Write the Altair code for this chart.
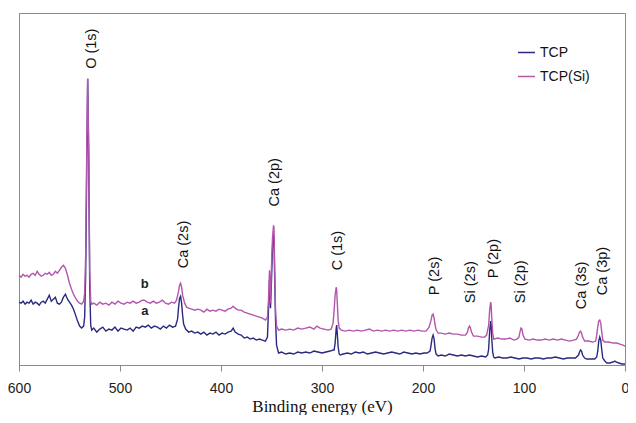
import altair as alt
import pandas as pd

# ---- TCP (curve a) : binding energy (eV), intensity (a.u.) ----
tcp_energy = [600,598,596,594,592,590,588,586,584,582,580,578,576,574,572,570,568,566,564,562,560,558,556,554,552,550,548,546,544,542,540,538,536,535,534,533,532,531,530,529,528,
              526,523,520,517,514,511,508,505,502,499,496,493,490,487,484,481,478,475,472,469,466,463,460,457,454,451,448,445,443,442,441,440,439,438,437,435,
              432,429,426,423,420,417,414,411,408,405,402,399,396,393,390,388,386,383,380,377,374,371,368,365,362,359,356,354,353,352,351.5,351,350,349,348,347.5,347,346,345,343,
              340,336,332,328,324,320,316,312,308,304,300,296,292,289,288,287,286,285.5,285,284,283,282,279,275,271,267,263,259,255,251,247,243,239,235,231,227,223,219,215,211,207,203,199,196,
              193,192,191,190,189,188,187,185,182,178,174,170,166,162,158,154,150,146,142,138,136,135,134,133,132.5,132,131,130,129,125,121,117,113,109,105,101,97,93,89,85,81,77,73,69,65,61,57,53,49,
              48,46,45,44,43,42,40,38,34,30,28,27,26,25,24,23,22,20,18,15,12,10,9,6,3,0]
tcp_counts = [63,62,64,61,63,62,65,61,63,62,60,63,64,62,66,70,64,66,68,62,61,63,68,71,66,63,60,56,50,44,39,37,39,48,90,190,287,210,80,40,35,
              37,33,36,38,34,36,35,38,34,37,36,35,37,34,38,37,39,38,40,37,39,38,36,39,37,40,38,39,46,58,67,69,62,50,41,36,
              33,34,32,33,31,33,30,32,31,33,30,32,31,33,34,37,33,31,30,27,28,26,27,25,26,25,24,28,55,85,78,57,85,118,130,128,95,45,20,12,
              13,11,12,11,13,12,13,12,14,13,12,13,14,15,15,22,36,40,34,18,11,10,11,12,11,13,12,13,11,12,13,12,11,12,13,12,11,13,12,11,12,11,12,12,
              14,20,27,30,26,16,11,9,10,9,11,10,9,10,9,10,9,8,9,8,10,16,34,44,40,28,13,8,7,8,7,7,8,7,6,7,7,6,7,7,6,7,7,8,7,6,7,7,7,
              8,10,13,15,14,10,7,6,6,6,8,14,24,28,25,15,7,4,2,2,3,4,3,2,1,1]

# ---- TCP(Si) (curve b) ----
tcpsi_energy = [600,598,596,594,592,590,588,586,584,582,580,578,576,574,572,570,568,566,564,562,560,558,556,554,552,550,548,546,544,542,540,538,536,535,534,533,532,531,530,529,528,
                526,523,520,517,514,511,508,505,502,499,496,493,490,487,484,481,478,476,473,470,467,464,461,458,455,452,449,446,444,442,441,440,439,438,436,434,
                432,429,426,423,420,417,414,411,408,405,402,399,396,393,390,388,386,383,380,377,374,371,368,365,362,359,356,354,353,352,351.5,351,350,349,348,347.5,347,346,345,343,
                340,336,332,328,324,320,316,312,308,305,302,298,294,291,289,288,287,286,285.5,285,284,283,281,277,273,269,265,261,257,253,249,245,241,237,233,229,225,221,217,213,209,205,201,197,
                194,192,191,190,189,188,187,185,182,178,174,170,166,162,158,156,155,154,153,152,150,146,142,139,137,135,134,133,132.5,132,131,130,126,122,118,114,110,107,105,104,103,102,101,99,
                95,91,87,83,79,75,71,67,63,59,55,51,48,46,45,44,43,42,40,36,32,29,28,27,26,25,24,23,22,20,16,12,8,5,2,0]
tcpsi_counts = [90,88,91,89,90,88,91,92,90,94,91,89,90,92,91,93,90,91,94,92,95,98,100,97,90,82,76,71,67,64,62,61,64,72,110,210,287,220,95,64,61,
                62,60,63,61,62,60,63,61,64,62,61,63,62,64,62,63,65,65,63,62,64,62,63,65,62,61,63,62,65,74,80,82,78,70,62,58,
                57,56,55,56,55,53,56,54,55,54,56,55,54,56,57,59,57,55,55,53,52,51,50,49,48,47,45,48,65,95,88,62,100,128,140,138,105,55,39,35,
                36,35,36,35,37,36,37,38,36,39,37,36,35,36,42,55,70,78,76,65,45,37,35,34,35,34,35,34,35,36,34,35,34,35,34,35,34,35,34,35,34,35,34,34,
                38,45,50,51,47,40,35,32,32,31,32,31,31,30,30,33,37,39,37,33,29,29,28,28,30,40,55,63,60,48,32,26,27,26,26,27,25,26,28,33,37,36,30,26,
                25,26,25,25,26,25,26,25,26,25,24,25,26,30,33,34,32,28,24,24,23,24,30,38,44,45,42,33,25,23,23,22,22,21,20,19]

series_names = ["TCP", "TCP(Si)"]
series_colors = ["#2b2a80", "#b456ac"]

# ---- peak labels ----
peak_labels = ["O (1s)", "Ca (2s)", "Ca (2p)", "C (1s)", "P (2s)", "Si (2s)", "P (2p)", "Si (2p)", "Ca (3s)", "Ca (3p)"]
peak_label_energy = [527.6, 436.5, 346.8, 283.7, 188.2, 152.7, 130.0, 102.5, 42.4, 21.7]
peak_label_level = [297, 97, 159, 95, 70, 62, 87, 62, 56, 70]

curve_labels = ["b", "a"]
curve_label_energy = [475.5, 475.5]
curve_label_level = [81, 54]

rows = []
for e, c in zip(tcp_energy, tcp_counts):
    rows.append({"energy": e, "counts": c, "sample": "TCP"})
for e, c in zip(tcpsi_energy, tcpsi_counts):
    rows.append({"energy": e, "counts": c, "sample": "TCP(Si)"})
df = pd.DataFrame(rows)

peaks = pd.DataFrame({"label": peak_labels, "energy": peak_label_energy, "counts": peak_label_level})
curves = pd.DataFrame({"label": curve_labels, "energy": curve_label_energy, "counts": curve_label_level})

xscale = alt.Scale(domain=[0, 600], reverse=True, nice=False)
yscale = alt.Scale(domain=[0, 353], nice=False, zero=True)

lines = alt.Chart(df).mark_line(strokeWidth=1.4, interpolate="linear").encode(
    x=alt.X("energy:Q", scale=xscale,
            axis=alt.Axis(title="Binding energy (eV)", values=[0, 100, 200, 300, 400, 500, 600],
                          grid=False, tickSize=6, labelPadding=10, titlePadding=3, labelFlush=False,
                          domainColor="#8a8a8a", tickColor="#8a8a8a",
                          labelFont="Liberation Sans", labelFontSize=14, labelColor="#222222",
                          titleFont="Liberation Serif", titleFontSize=17, titleFontWeight="normal",
                          titleColor="#111111")),
    y=alt.Y("counts:Q", scale=yscale,
            axis=alt.Axis(title=None, labels=False, ticks=False, grid=False, domainColor="#8a8a8a")),
    color=alt.Color("sample:N", scale=alt.Scale(domain=series_names, range=series_colors),
                    legend=alt.Legend(title=None, orient="none", legendX=498, legendY=30,
                                      symbolType="stroke", symbolSize=289, symbolStrokeWidth=1.5,
                                      labelFont="Liberation Sans", labelFontSize=14, labelColor="#111111",
                                      rowPadding=7, labelOffset=4, padding=0)),
    order=alt.Order("energy:Q"),
)

peak_text = alt.Chart(peaks).mark_text(angle=270, align="left", baseline="middle",
                                       font="Liberation Sans", fontSize=14.5, color="#111111").encode(
    x=alt.X("energy:Q", scale=xscale), y=alt.Y("counts:Q", scale=yscale), text="label:N")

curve_text = alt.Chart(curves).mark_text(align="center", baseline="middle", font="Liberation Sans",
                                         fontSize=13, fontWeight="bold", color="#222222").encode(
    x=alt.X("energy:Q", scale=xscale), y=alt.Y("counts:Q", scale=yscale), text="label:N")

chart = alt.layer(lines, peak_text, curve_text).properties(
    width=606, height=352,
    autosize=alt.AutoSizeParams(type="none"),
    padding={"left": 11, "top": 5, "right": 3, "bottom": 50},
).configure_view(stroke="#8a8a8a", strokeWidth=1)

chart.save("out.html", embed_options={"renderer": "svg", "actions": False})
